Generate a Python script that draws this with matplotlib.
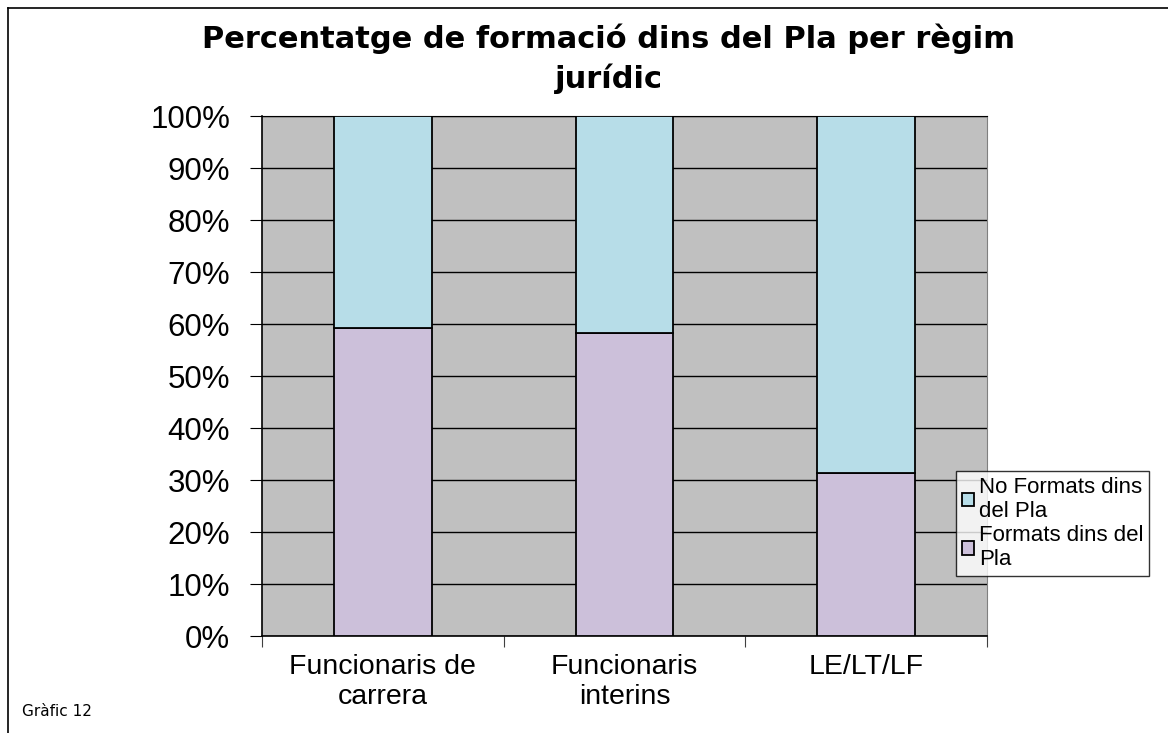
#!/usr/bin/env python3
"""
Percentatge de formació dins del Pla per règim jurídic (Gràfic 12)
"""

import matplotlib
matplotlib.use('Agg')
import matplotlib.pyplot as plt
from matplotlib.lines import Line2D
from matplotlib.ticker import PercentFormatter, FixedLocator

# dades
categories = ['Funcionaris de\ncarrera', 'Funcionaris\ninterins', 'LE/LT/LF']
formats = [59.2, 58.3, 31.3]          # % formats dins del Pla
no_formats = [100 - v for v in formats]

color_formats = '#CCC0DA'
color_no_formats = '#B7DDE8'

plt.rcParams['font.family'] = ['Liberation Sans', 'DejaVu Sans']

fig = plt.figure(figsize=(11.68, 7.33), dpi=100)
ax = fig.add_axes([262 / 1168, 97 / 733, 725 / 1168, 520 / 733])

x = [i + 0.5 for i in range(len(categories))]
ax.bar(x, formats, width=0.405, color=color_formats, edgecolor='black',
       linewidth=1.3, label='Formats dins del\nPla', zorder=3)
ax.bar(x, no_formats, bottom=formats, width=0.405, color=color_no_formats,
       edgecolor='black', linewidth=1.3, label='No Formats dins\ndel Pla', zorder=3)

ax.set_xlim(0, 3)
ax.set_ylim(0, 100)
ax.set_facecolor('#C0C0C0')
ax.set_yticks(range(0, 101, 10))
ax.yaxis.set_major_formatter(PercentFormatter(decimals=0))
ax.grid(axis='y', color='black', linewidth=1, zorder=1)
ax.set_axisbelow(True)

# ticks de l'eix x als límits de categoria, etiquetes al centre
ax.xaxis.set_major_locator(FixedLocator([0, 1, 2, 3]))
ax.xaxis.set_major_formatter(plt.NullFormatter())
ax.xaxis.set_minor_locator(FixedLocator(x))
ax.set_xticklabels(categories, minor=True)
ax.tick_params(axis='x', which='minor', length=0, labelsize=20.5, pad=13)
ax.tick_params(axis='x', which='major', length=8, direction='out', color='#404040')
ax.tick_params(axis='y', length=9, direction='out', labelsize=22.5, pad=14)

for s in ['left', 'bottom']:
    ax.spines[s].set_color('black')
    ax.spines[s].set_linewidth(1.2)
ax.spines['top'].set_color('black')
ax.spines['right'].set_color('#808080')

fig.text(609 / 1168, 1 - 24 / 733, 'Percentatge de formació dins del Pla per règim\njurídic',
         ha='center', va='top', family='DejaVu Sans', fontsize=22,
         fontweight='bold', linespacing=1.35)

handles, labels = ax.get_legend_handles_labels()
leg = fig.legend(handles[::-1], labels[::-1], loc='upper left',
                 bbox_to_anchor=(956 / 1168, 1 - 471 / 733), fontsize=16,
                 frameon=True, fancybox=False, shadow=False, borderpad=0.25,
                 handlelength=0.55, handleheight=0.55, handletextpad=0.25,
                 labelspacing=0.15, borderaxespad=0)
leg.get_frame().set_edgecolor('black')
leg.get_frame().set_linewidth(1)

fig.text(22 / 1168, 1 - 712 / 733, 'Gràfic 12', family='DejaVu Sans',
         fontsize=11, va='center', ha='left')

# marc de la pàgina (només visible a dalt i a l'esquerra)
fig.add_artist(Line2D([8 / 1168, 1], [1 - 8 / 733, 1 - 8 / 733], color='black', lw=1.2))
fig.add_artist(Line2D([8 / 1168, 8 / 1168], [0, 1 - 8 / 733], color='black', lw=1.2))

fig.savefig('out.png', dpi=100, facecolor='white')
